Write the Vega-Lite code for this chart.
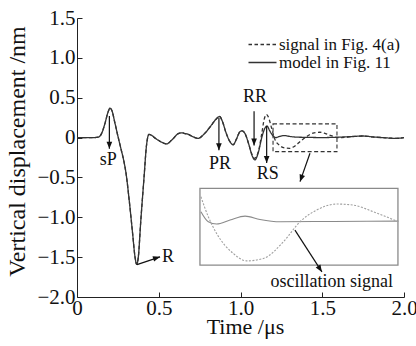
{
  "$schema": "https://vega.github.io/schema/vega-lite/v6.json",
  "width": 327,
  "height": 279,
  "autosize": {"type": "none"},
  "padding": {"left": 77, "top": 18, "right": 12, "bottom": 49},
  "background": "white",
  "config": {
    "view": {"stroke": null},
    "axis": {
      "domainColor": "#222", "tickColor": "#222", "grid": false, "tickSize": -5,
      "labelFont": "Liberation Serif", "labelFontSize": 21, "labelColor": "#111",
      "titleFont": "Liberation Serif", "titleFontWeight": "normal", "titleColor": "#111",
      "labelFlush": false, "labelOverlap": false
    },
    "text": {"font": "Liberation Serif"}
  },
  "datasets": {
    "main": [
      {"x": 0, "y": 0, "series": "model in Fig. 11"},
      {"x": 0.1, "y": 0, "series": "model in Fig. 11"},
      {"x": 0.13, "y": 0.005, "series": "model in Fig. 11"},
      {"x": 0.15, "y": 0.05, "series": "model in Fig. 11"},
      {"x": 0.17, "y": 0.17, "series": "model in Fig. 11"},
      {"x": 0.19, "y": 0.32, "series": "model in Fig. 11"},
      {"x": 0.202, "y": 0.37, "series": "model in Fig. 11"},
      {"x": 0.215, "y": 0.33, "series": "model in Fig. 11"},
      {"x": 0.23, "y": 0.2, "series": "model in Fig. 11"},
      {"x": 0.25, "y": 0.02, "series": "model in Fig. 11"},
      {"x": 0.27, "y": -0.15, "series": "model in Fig. 11"},
      {"x": 0.285, "y": -0.28, "series": "model in Fig. 11"},
      {"x": 0.3, "y": -0.45, "series": "model in Fig. 11"},
      {"x": 0.32, "y": -0.8, "series": "model in Fig. 11"},
      {"x": 0.34, "y": -1.2, "series": "model in Fig. 11"},
      {"x": 0.355, "y": -1.5, "series": "model in Fig. 11"},
      {"x": 0.365, "y": -1.59, "series": "model in Fig. 11"},
      {"x": 0.375, "y": -1.5, "series": "model in Fig. 11"},
      {"x": 0.39, "y": -1.05, "series": "model in Fig. 11"},
      {"x": 0.41, "y": -0.5, "series": "model in Fig. 11"},
      {"x": 0.425, "y": -0.1, "series": "model in Fig. 11"},
      {"x": 0.44, "y": 0.04, "series": "model in Fig. 11"},
      {"x": 0.45, "y": 0.035, "series": "model in Fig. 11"},
      {"x": 0.48, "y": -0.01, "series": "model in Fig. 11"},
      {"x": 0.52, "y": -0.06, "series": "model in Fig. 11"},
      {"x": 0.548, "y": -0.08, "series": "model in Fig. 11"},
      {"x": 0.58, "y": -0.03, "series": "model in Fig. 11"},
      {"x": 0.62, "y": 0.05, "series": "model in Fig. 11"},
      {"x": 0.64, "y": 0.06, "series": "model in Fig. 11"},
      {"x": 0.66, "y": 0.05, "series": "model in Fig. 11"},
      {"x": 0.675, "y": 0.045, "series": "model in Fig. 11"},
      {"x": 0.7, "y": 0.02, "series": "model in Fig. 11"},
      {"x": 0.74, "y": -0.01, "series": "model in Fig. 11"},
      {"x": 0.78, "y": 0.05, "series": "model in Fig. 11"},
      {"x": 0.82, "y": 0.15, "series": "model in Fig. 11"},
      {"x": 0.85, "y": 0.23, "series": "model in Fig. 11"},
      {"x": 0.872, "y": 0.265, "series": "model in Fig. 11"},
      {"x": 0.89, "y": 0.2, "series": "model in Fig. 11"},
      {"x": 0.91, "y": 0.07, "series": "model in Fig. 11"},
      {"x": 0.935, "y": -0.05, "series": "model in Fig. 11"},
      {"x": 0.955, "y": -0.09, "series": "model in Fig. 11"},
      {"x": 0.975, "y": -0.02, "series": "model in Fig. 11"},
      {"x": 0.995, "y": 0.07, "series": "model in Fig. 11"},
      {"x": 1.01, "y": 0.085, "series": "model in Fig. 11"},
      {"x": 1.03, "y": 0.04, "series": "model in Fig. 11"},
      {"x": 1.05, "y": -0.08, "series": "model in Fig. 11"},
      {"x": 1.07, "y": -0.22, "series": "model in Fig. 11"},
      {"x": 1.088, "y": -0.28, "series": "model in Fig. 11"},
      {"x": 1.11, "y": -0.18, "series": "model in Fig. 11"},
      {"x": 1.13, "y": 0.0, "series": "model in Fig. 11"},
      {"x": 1.15, "y": 0.12, "series": "model in Fig. 11"},
      {"x": 1.162, "y": 0.145, "series": "model in Fig. 11"},
      {"x": 1.18, "y": 0.08, "series": "model in Fig. 11"},
      {"x": 1.2, "y": 0.02, "series": "model in Fig. 11"},
      {"x": 1.215, "y": 0.0, "series": "model in Fig. 11"},
      {"x": 1.24, "y": 0.015, "series": "model in Fig. 11"},
      {"x": 1.27, "y": 0.025, "series": "model in Fig. 11"},
      {"x": 1.3, "y": 0.015, "series": "model in Fig. 11"},
      {"x": 1.35, "y": 0.005, "series": "model in Fig. 11"},
      {"x": 1.4, "y": 0.003, "series": "model in Fig. 11"},
      {"x": 1.5, "y": 0, "series": "model in Fig. 11"},
      {"x": 1.6, "y": 0.005, "series": "model in Fig. 11"},
      {"x": 1.7, "y": 0.015, "series": "model in Fig. 11"},
      {"x": 1.75, "y": 0.02, "series": "model in Fig. 11"},
      {"x": 1.8, "y": 0.01, "series": "model in Fig. 11"},
      {"x": 1.9, "y": -0.005, "series": "model in Fig. 11"},
      {"x": 1.95, "y": -0.01, "series": "model in Fig. 11"},
      {"x": 2.0, "y": 0, "series": "model in Fig. 11"},

      {"x": 0, "y": 0, "series": "signal in Fig. 4(a)"},
      {"x": 0.1, "y": 0, "series": "signal in Fig. 4(a)"},
      {"x": 0.13, "y": 0.005, "series": "signal in Fig. 4(a)"},
      {"x": 0.15, "y": 0.05, "series": "signal in Fig. 4(a)"},
      {"x": 0.17, "y": 0.17, "series": "signal in Fig. 4(a)"},
      {"x": 0.19, "y": 0.32, "series": "signal in Fig. 4(a)"},
      {"x": 0.202, "y": 0.37, "series": "signal in Fig. 4(a)"},
      {"x": 0.215, "y": 0.33, "series": "signal in Fig. 4(a)"},
      {"x": 0.23, "y": 0.2, "series": "signal in Fig. 4(a)"},
      {"x": 0.25, "y": 0.02, "series": "signal in Fig. 4(a)"},
      {"x": 0.27, "y": -0.15, "series": "signal in Fig. 4(a)"},
      {"x": 0.285, "y": -0.28, "series": "signal in Fig. 4(a)"},
      {"x": 0.3, "y": -0.45, "series": "signal in Fig. 4(a)"},
      {"x": 0.32, "y": -0.8, "series": "signal in Fig. 4(a)"},
      {"x": 0.34, "y": -1.2, "series": "signal in Fig. 4(a)"},
      {"x": 0.355, "y": -1.5, "series": "signal in Fig. 4(a)"},
      {"x": 0.365, "y": -1.59, "series": "signal in Fig. 4(a)"},
      {"x": 0.375, "y": -1.5, "series": "signal in Fig. 4(a)"},
      {"x": 0.39, "y": -1.05, "series": "signal in Fig. 4(a)"},
      {"x": 0.41, "y": -0.5, "series": "signal in Fig. 4(a)"},
      {"x": 0.425, "y": -0.1, "series": "signal in Fig. 4(a)"},
      {"x": 0.44, "y": 0.04, "series": "signal in Fig. 4(a)"},
      {"x": 0.45, "y": 0.035, "series": "signal in Fig. 4(a)"},
      {"x": 0.48, "y": -0.01, "series": "signal in Fig. 4(a)"},
      {"x": 0.52, "y": -0.06, "series": "signal in Fig. 4(a)"},
      {"x": 0.548, "y": -0.08, "series": "signal in Fig. 4(a)"},
      {"x": 0.58, "y": -0.03, "series": "signal in Fig. 4(a)"},
      {"x": 0.62, "y": 0.05, "series": "signal in Fig. 4(a)"},
      {"x": 0.64, "y": 0.06, "series": "signal in Fig. 4(a)"},
      {"x": 0.66, "y": 0.05, "series": "signal in Fig. 4(a)"},
      {"x": 0.675, "y": 0.045, "series": "signal in Fig. 4(a)"},
      {"x": 0.7, "y": 0.02, "series": "signal in Fig. 4(a)"},
      {"x": 0.74, "y": -0.01, "series": "signal in Fig. 4(a)"},
      {"x": 0.78, "y": 0.05, "series": "signal in Fig. 4(a)"},
      {"x": 0.82, "y": 0.15, "series": "signal in Fig. 4(a)"},
      {"x": 0.85, "y": 0.23, "series": "signal in Fig. 4(a)"},
      {"x": 0.872, "y": 0.265, "series": "signal in Fig. 4(a)"},
      {"x": 0.89, "y": 0.2, "series": "signal in Fig. 4(a)"},
      {"x": 0.91, "y": 0.07, "series": "signal in Fig. 4(a)"},
      {"x": 0.935, "y": -0.05, "series": "signal in Fig. 4(a)"},
      {"x": 0.955, "y": -0.09, "series": "signal in Fig. 4(a)"},
      {"x": 0.975, "y": -0.02, "series": "signal in Fig. 4(a)"},
      {"x": 0.995, "y": 0.07, "series": "signal in Fig. 4(a)"},
      {"x": 1.01, "y": 0.085, "series": "signal in Fig. 4(a)"},
      {"x": 1.03, "y": 0.04, "series": "signal in Fig. 4(a)"},
      {"x": 1.05, "y": -0.08, "series": "signal in Fig. 4(a)"},
      {"x": 1.07, "y": -0.21, "series": "signal in Fig. 4(a)"},
      {"x": 1.085, "y": -0.26, "series": "signal in Fig. 4(a)"},
      {"x": 1.11, "y": -0.17, "series": "signal in Fig. 4(a)"},
      {"x": 1.13, "y": 0.05, "series": "signal in Fig. 4(a)"},
      {"x": 1.145, "y": 0.23, "series": "signal in Fig. 4(a)"},
      {"x": 1.158, "y": 0.29, "series": "signal in Fig. 4(a)"},
      {"x": 1.17, "y": 0.26, "series": "signal in Fig. 4(a)"},
      {"x": 1.19, "y": 0.12, "series": "signal in Fig. 4(a)"},
      {"x": 1.21, "y": -0.02, "series": "signal in Fig. 4(a)"},
      {"x": 1.24, "y": -0.1, "series": "signal in Fig. 4(a)"},
      {"x": 1.27, "y": -0.13, "series": "signal in Fig. 4(a)"},
      {"x": 1.3, "y": -0.135, "series": "signal in Fig. 4(a)"},
      {"x": 1.33, "y": -0.11, "series": "signal in Fig. 4(a)"},
      {"x": 1.37, "y": -0.04, "series": "signal in Fig. 4(a)"},
      {"x": 1.41, "y": 0.02, "series": "signal in Fig. 4(a)"},
      {"x": 1.45, "y": 0.06, "series": "signal in Fig. 4(a)"},
      {"x": 1.486, "y": 0.067, "series": "signal in Fig. 4(a)"},
      {"x": 1.52, "y": 0.05, "series": "signal in Fig. 4(a)"},
      {"x": 1.56, "y": 0.02, "series": "signal in Fig. 4(a)"},
      {"x": 1.59, "y": 0.0, "series": "signal in Fig. 4(a)"},
      {"x": 1.62, "y": 0.0, "series": "signal in Fig. 4(a)"},
      {"x": 1.7, "y": 0.015, "series": "signal in Fig. 4(a)"},
      {"x": 1.75, "y": 0.02, "series": "signal in Fig. 4(a)"},
      {"x": 1.8, "y": 0.01, "series": "signal in Fig. 4(a)"},
      {"x": 1.9, "y": -0.005, "series": "signal in Fig. 4(a)"},
      {"x": 1.95, "y": -0.01, "series": "signal in Fig. 4(a)"},
      {"x": 2.0, "y": 0, "series": "signal in Fig. 4(a)"}
    ],
    "insetSolid": [
      {"x": 0.758, "y": -0.93},
      {"x": 0.803, "y": -1.056},
      {"x": 0.854, "y": -1.085},
      {"x": 0.936, "y": -1.035},
      {"x": 1.028, "y": -0.985},
      {"x": 1.119, "y": -1.027},
      {"x": 1.242, "y": -1.056},
      {"x": 1.568, "y": -1.052},
      {"x": 1.965, "y": -1.048}
    ],
    "insetDotted": [
      {"x": 0.758, "y": -0.742},
      {"x": 0.803, "y": -0.993},
      {"x": 0.854, "y": -1.203},
      {"x": 0.956, "y": -1.454},
      {"x": 1.038, "y": -1.547},
      {"x": 1.14, "y": -1.517},
      {"x": 1.262, "y": -1.308},
      {"x": 1.364, "y": -1.056},
      {"x": 1.466, "y": -0.909},
      {"x": 1.588, "y": -0.834},
      {"x": 1.69, "y": -0.847},
      {"x": 1.812, "y": -0.93},
      {"x": 1.965, "y": -1.056}
    ],
    "boxes": [
      {"kind": "inset", "x": 0.752, "x2": 1.963, "y": -0.637, "y2": -1.601},
      {"kind": "zoom", "x": 1.199, "x2": 1.59, "y": 0.172, "y2": -0.176}
    ],
    "arrows": [
      {"name": "sP", "x": 0.198, "y": 0.27, "x2": 0.198, "y2": -0.14},
      {"name": "PR", "x": 0.868, "y": 0.245, "x2": 0.868, "y2": -0.16},
      {"name": "RR", "x": 1.083, "y": 0.33, "x2": 1.083, "y2": -0.1},
      {"name": "RS", "x": 1.16, "y": 0.145, "x2": 1.16, "y2": -0.32},
      {"name": "R", "x": 0.367, "y": -1.593, "x2": 0.508, "y2": -1.496},
      {"name": "box", "x": 1.425, "y": -0.197, "x2": 1.364, "y2": -0.553},
      {"name": "osc", "x": 1.333, "y": -1.161, "x2": 1.498, "y2": -1.685}
    ],
    "labels": [
      {"x": 0.191, "y": -0.28, "text": "sP"},
      {"x": 0.875, "y": -0.33, "text": "PR"},
      {"x": 1.089, "y": 0.514, "text": "RR"},
      {"x": 1.166, "y": -0.455, "text": "RS"},
      {"x": 1.558, "y": -1.818, "text": "oscillation signal"},
      {"x": 0.557, "y": -1.496, "text": "R"}
    ]
  },
  "encoding": {
    "x": {
      "field": "x", "type": "quantitative",
      "scale": {"domain": [0, 2], "nice": false, "zero": false},
      "axis": {
        "values": [0, 0.5, 1, 1.5, 2],
        "labelExpr": "datum.value == 0 ? '0' : format(datum.value, '.1f')",
        "labelPadding": 5,
        "title": "Time /μs", "titleFontSize": 22,
        "titleX": 168, "titleY": 36, "titleBaseline": "alphabetic", "titleAlign": "center"
      }
    },
    "y": {
      "field": "y", "type": "quantitative",
      "scale": {"domain": [-2, 1.5], "nice": false, "zero": false},
      "axis": {
        "values": [-2, -1.5, -1, -0.5, 0, 0.5, 1, 1.5],
        "labelExpr": "datum.value == 0 ? '0' : format(datum.value, '.1f')",
        "labelPadding": 7,
        "title": "Vertical displacement /nm", "titleFontSize": 24,
        "titleX": -60, "titleY": 133, "titleAngle": 270, "titleBaseline": "middle", "titleAlign": "center"
      }
    }
  },
  "layer": [
    {
      "data": {"name": "boxes"},
      "transform": [{"filter": "datum.kind == 'inset'"}],
      "mark": {"type": "rect", "fill": "white", "stroke": "#8a8a8a", "strokeWidth": 1.3},
      "encoding": {"x2": {"field": "x2"}, "y2": {"field": "y2"}}
    },
    {
      "data": {"name": "boxes"},
      "transform": [{"filter": "datum.kind == 'zoom'"}],
      "mark": {"type": "rect", "fill": null, "stroke": "#333", "strokeWidth": 1.1, "strokeDash": [4, 2.5]},
      "encoding": {"x2": {"field": "x2"}, "y2": {"field": "y2"}}
    },
    {
      "data": {"name": "insetSolid"},
      "mark": {"type": "line", "color": "#8a8a8a", "strokeWidth": 1.1, "interpolate": "monotone"},
      "encoding": {}
    },
    {
      "data": {"name": "insetDotted"},
      "mark": {"type": "line", "color": "#a0a0a0", "strokeWidth": 1.1, "strokeDash": [2, 1.5], "interpolate": "monotone"},
      "encoding": {}
    },
    {
      "data": {"name": "main"},
      "mark": {"type": "line", "color": "#333", "strokeWidth": 1.3, "interpolate": "monotone"},
      "encoding": {
        "strokeDash": {
          "field": "series", "type": "nominal",
          "scale": {"domain": ["signal in Fig. 4(a)", "model in Fig. 11"], "range": [[3.5, 2.5], [1, 0]]},
          "legend": {
            "orient": "none", "legendX": 170, "legendY": 18, "title": null, "padding": 0,
            "symbolType": "M-1,0H3", "symbolSize": 196, "symbolStrokeColor": "#333",
            "symbolFillColor": "transparent", "symbolStrokeWidth": 1.3,
            "labelFont": "Liberation Serif", "labelFontSize": 17, "labelColor": "#111",
            "labelOffset": 15, "rowPadding": 0
          }
        }
      }
    },
    {
      "data": {"name": "arrows"},
      "mark": {"type": "rule", "color": "#111", "strokeWidth": 1.2},
      "encoding": {"x2": {"field": "x2"}, "y2": {"field": "y2"}}
    },
    {
      "data": {"name": "arrows"},
      "transform": [{"filter": "datum.name == 'sP' || datum.name == 'PR' || datum.name == 'RR' || datum.name == 'RS'"}],
      "mark": {"type": "point", "shape": "M0,0L-0.4,-1L0.4,-1Z", "filled": true, "color": "#111", "size": 200, "opacity": 1},
      "encoding": {"x": {"field": "x2", "type": "quantitative"}, "y": {"field": "y2", "type": "quantitative"}}
    },
    {
      "data": {"name": "arrows"},
      "transform": [{"filter": "datum.name == 'R'"}],
      "mark": {"type": "point", "shape": "M0,0L-0.4,-1L0.4,-1Z", "filled": true, "color": "#111", "size": 200, "opacity": 1, "angle": 253},
      "encoding": {"x": {"field": "x2", "type": "quantitative"}, "y": {"field": "y2", "type": "quantitative"}}
    },
    {
      "data": {"name": "arrows"},
      "transform": [{"filter": "datum.name == 'box'"}],
      "mark": {"type": "point", "shape": "M0,0L-0.4,-1L0.4,-1Z", "filled": true, "color": "#111", "size": 200, "opacity": 1, "angle": 19},
      "encoding": {"x": {"field": "x2", "type": "quantitative"}, "y": {"field": "y2", "type": "quantitative"}}
    },
    {
      "data": {"name": "arrows"},
      "transform": [{"filter": "datum.name == 'osc'"}],
      "mark": {"type": "point", "shape": "M0,0L-0.4,-1L0.4,-1Z", "filled": true, "color": "#111", "size": 200, "opacity": 1, "angle": 327},
      "encoding": {"x": {"field": "x2", "type": "quantitative"}, "y": {"field": "y2", "type": "quantitative"}}
    },
    {
      "data": {"name": "labels"},
      "mark": {"type": "text", "fontSize": 18, "color": "#111", "baseline": "middle", "align": "center"},
      "encoding": {"text": {"field": "text"}}
    }
  ]
}
